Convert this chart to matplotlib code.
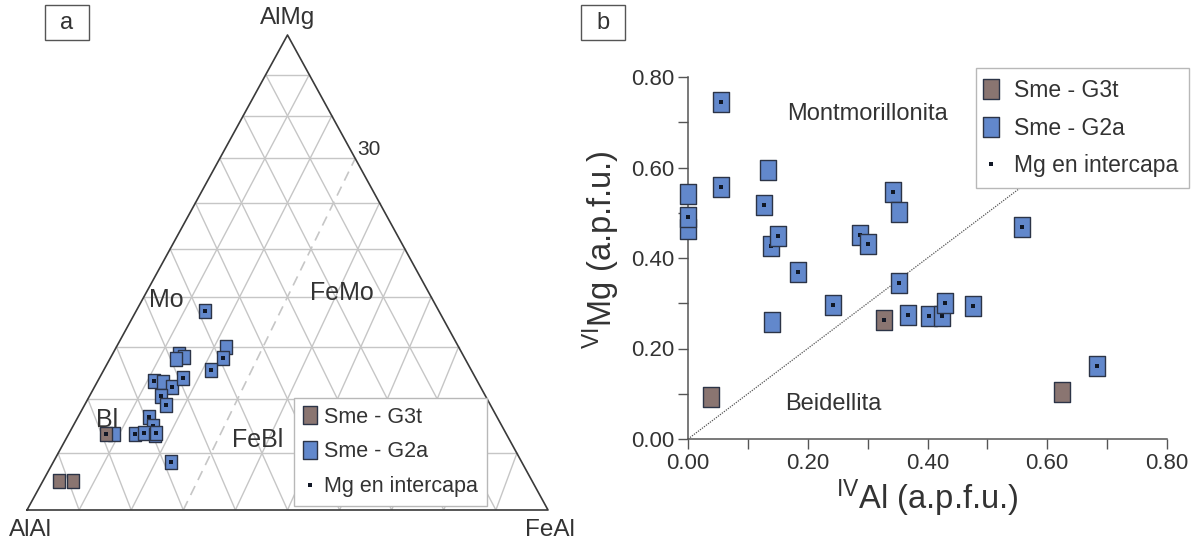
import numpy as np
import matplotlib
matplotlib.use("Agg")
import matplotlib.pyplot as plt
from matplotlib.path import Path
from matplotlib.lines import Line2D
from matplotlib.patches import Rectangle

plt.rcParams['font.family'] = ['Liberation Sans', 'DejaVu Sans']
plt.rcParams['mathtext.fontset'] = 'custom'
plt.rcParams['mathtext.rm'] = 'Liberation Sans'
plt.rcParams['mathtext.it'] = 'Liberation Sans'

# ---- (a) ternary AlAl - FeAl - AlMg, in % of AlMg and FeAl
tern_g2a_mg = [37.1, 28.6, 28.0, 27.6, 29.9, 27.8, 25.5, 23.5, 23.3, 22.2, 24.0,
               20.6, 18.9, 16.7, 15.0, 13.5, 13.6, 13.3, 13.6, 13.5, 8.5]
tern_g2a_fe = [14.4, 13.6, 15.0, 13.5, 22.5, 22.9, 21.7, 11.4, 13.3, 15.6, 16.8,
               14.3, 16.3, 14.0, 15.8, 13.1, 14.9, 17.2, 17.3, 9.0, 22.9]
tern_g2a_int = [1, 0, 0, 0, 0, 1, 1, 1, 0, 1, 1, 1, 1, 1, 1, 1, 1, 0, 1, 0, 1]

tern_g3t_mg = [13.5, 5.1, 5.1]
tern_g3t_fe = [7.4, 3.1, 5.8]
tern_g3t_int = [1, 0, 0]

# ---- (b) IVAl vs VIMg (a.p.f.u.)
g2a_al = [0.055, 0.055, 0.0, 0.0, 0.0, 0.134, 0.127, 0.139, 0.150, 0.183, 0.141, 0.242,
          0.287, 0.301, 0.343, 0.352, 0.352, 0.367, 0.402, 0.424, 0.429, 0.476, 0.557, 0.683]
g2a_mg = [0.745, 0.556, 0.542, 0.463, 0.491, 0.594, 0.517, 0.427, 0.449, 0.370, 0.258, 0.296,
          0.450, 0.432, 0.545, 0.501, 0.345, 0.274, 0.272, 0.272, 0.301, 0.295, 0.469, 0.162]
g2a_int = [1, 1, 0, 0, 1, 0, 1, 1, 1, 1, 0, 1, 1, 1, 1, 0, 1, 1, 1, 1, 1, 1, 1, 1]

g3t_al = [0.038, 0.327, 0.624]
g3t_mg = [0.092, 0.262, 0.103]
g3t_int = [0, 1, 0]

ticks = [0.0, 0.2, 0.4, 0.6, 0.8]
minor_ticks = [0.1, 0.3, 0.5, 0.7]

blue = '#6288cc'
brown = '#8a7571'
edge = '#2c3447'
dotc = '#111827'
txt = '#333333'

rect = Path([(-0.41, -0.5), (0.41, -0.5), (0.41, 0.5), (-0.41, 0.5), (-0.41, -0.5)], closed=True)


def squares(ax, xs, ys, dots, fc, ms, dms):
    for x, y, d in zip(xs, ys, dots):
        ax.plot(x, y, ls='none', marker=rect, ms=ms, mfc=fc, mec=edge, mew=1.0,
                clip_on=False, zorder=3)
        if d:
            ax.plot(x, y, ls='none', marker='s', ms=dms, color=dotc, mew=0,
                    clip_on=False, zorder=3)


# the triangle is drawn slightly foreshortened towards the AlMg apex
PERSP = 0.22


def tern(mg, fe):
    m = np.asarray(mg, dtype=float) / 100
    f = np.asarray(fe, dtype=float) / 100
    k = 1 + PERSP * m
    return (f + 0.5 * m * (1 + PERSP)) / k, m * (1 + PERSP) / k


W, H = 1195, 544
fig = plt.figure(figsize=(W / 100, H / 100), dpi=100)

# ---------------- panel a
ax_t = fig.add_axes([27 / W, 1 - 510 / H, 521 / W, 475 / H])
ax_t.set_xlim(0, 1)
ax_t.set_ylim(0, 1)
ax_t.axis('off')

grid_kw = dict(color='#c6c6c6', lw=1.0, zorder=1)
for i in range(1, 10):
    p = i * 10
    q = 100 - p
    ax_t.plot(*tern([p, p], [0, q]), **grid_kw)          # AlMg = p
    ax_t.plot(*tern([0, q], [q, 0]), **grid_kw)          # AlAl = p
    if i != 3:
        ax_t.plot(*tern([0, q], [p, p]), **grid_kw)      # FeAl = p
ax_t.plot(*tern([0, 70], [30, 30]), color='#c6c6c6', lw=1.2, ls=(0, (6, 4)), zorder=1)
ax_t.plot(*tern([0, 0, 100, 0], [0, 100, 0, 0]), color='#3a3a3a', lw=1.2, zorder=2, clip_on=False)

x, y = tern(tern_g2a_mg, tern_g2a_fe)
squares(ax_t, x, y, tern_g2a_int, blue, 10.2, 2.3)
x, y = tern(tern_g3t_mg, tern_g3t_fe)
squares(ax_t, x, y, tern_g3t_int, brown, 10.2, 2.3)

ax_t.text(0.5, 1.036, 'AlMg', ha='center', va='center', fontsize=17.5, color=txt)
ax_t.text(0.006, -0.042, 'AlAl', ha='center', va='center', fontsize=17.5, color=txt)
ax_t.text(1.004, -0.042, 'FeAl', ha='center', va='center', fontsize=17.5, color=txt)
ax_t.text(0.633, 0.758, '30', ha='left', va='center', fontsize=15, color=txt)
ax_t.text(0.267, 0.442, 'Mo', ha='center', va='center', fontsize=18, color=txt)
ax_t.text(0.605, 0.457, 'FeMo', ha='center', va='center', fontsize=18, color=txt)
ax_t.text(0.154, 0.19, 'Bl', ha='center', va='center', fontsize=18, color=txt)
ax_t.text(0.443, 0.147, 'FeBl', ha='center', va='center', fontsize=18, color=txt)

hs_a = [Line2D([], [], ls='none', marker=rect, ms=12.7, mfc=brown, mec=edge, mew=1.0, label='Sme - G3t'),
        Line2D([], [], ls='none', marker=rect, ms=12.7, mfc=blue, mec=edge, mew=1.0, label='Sme - G2a'),
        Line2D([], [], ls='none', marker='s', ms=3, mew=0, color=dotc, label='Mg en intercapa')]
leg_a = ax_t.legend(handles=hs_a, loc='upper left', bbox_to_anchor=(0.5125, 0.2358), borderaxespad=0,
                    fontsize=15.5, frameon=True, fancybox=False, framealpha=1, edgecolor='#b8b8b8',
                    borderpad=0.4, handlelength=0.65, handletextpad=0.35, labelspacing=0.64)
leg_a.get_frame().set_linewidth(1.0)
leg_a.set_zorder(5)
for t in leg_a.get_texts():
    t.set_color(txt)

# ---------------- panel b
ax_b = fig.add_axes([688 / W, 1 - 439 / H, 479 / W, 362 / H])
ax_b.set_xlim(0, 0.8)
ax_b.set_ylim(0, 0.8)
for s in ['top', 'right']:
    ax_b.spines[s].set_visible(False)
for s in ['left', 'bottom']:
    ax_b.spines[s].set_color('#555555')
    ax_b.spines[s].set_linewidth(1.1)
ax_b.set_xticks(ticks)
ax_b.set_yticks(ticks)
ax_b.set_xticks(minor_ticks, minor=True)
ax_b.set_yticks(minor_ticks, minor=True)
ax_b.set_xticklabels([f'{v:.2f}' for v in ticks])
ax_b.set_yticklabels([f'{v:.2f}' for v in ticks])
ax_b.tick_params(which='both', direction='out', length=7, width=1.0, color='#555555',
                 labelsize=16, labelcolor=txt, pad=3)

ax_b.plot([0, 0.8], [0, 0.8], ls=(0, (1, 1)), color='#555555', lw=0.9, zorder=1)

squares(ax_b, g2a_al, g2a_mg, g2a_int, blue, 14.2, 3.0)
squares(ax_b, g3t_al, g3t_mg, g3t_int, brown, 14.2, 3.0)

ax_b.text(0.300, 0.718, 'Montmorillonita', ha='center', va='center', fontsize=17, color=txt)
ax_b.text(0.243, 0.078, 'Beidellita', ha='center', va='center', fontsize=17, color=txt)

ax_b.set_xlabel(r'$^{\mathrm{IV}}$Al (a.p.f.u.)', fontsize=23.5, color=txt)
ax_b.set_ylabel(r'$^{\mathrm{VI}}$Mg (a.p.f.u.)', fontsize=23.5, color=txt)
ax_b.xaxis.set_label_coords(0.5, -0.105)
ax_b.yaxis.set_label_coords(-0.138, 0.522)

hs_b = [Line2D([], [], ls='none', marker=rect, ms=14.8, mfc=brown, mec=edge, mew=1.0, label='Sme - G3t'),
        Line2D([], [], ls='none', marker=rect, ms=14.8, mfc=blue, mec=edge, mew=1.0, label='Sme - G2a'),
        Line2D([], [], ls='none', marker='s', ms=3.5, mew=0, color=dotc, label='Mg en intercapa')]
leg_b = ax_b.legend(handles=hs_b, loc='upper left', bbox_to_anchor=(0.601, 1.025), borderaxespad=0,
                    fontsize=16.5, frameon=True, fancybox=False, framealpha=1, edgecolor='#b8b8b8',
                    borderpad=0.5, handlelength=0.3, handletextpad=0.85, labelspacing=0.62)
leg_b.get_frame().set_linewidth(1.0)
leg_b.set_zorder(5)
for t in leg_b.get_texts():
    t.set_color(txt)

# panel letters
for x0, letter in [(45, 'a'), (581, 'b')]:
    fig.patches.append(Rectangle((x0 / W, 1 - 40 / H), 44 / W, 35 / H, transform=fig.transFigure,
                                 fill=True, facecolor='white', edgecolor='#555555', lw=1.0))
    fig.text((x0 + 22) / W, 1 - 23 / H, letter, ha='center', va='center', fontsize=17, color=txt)

fig.savefig('out.png', dpi=100)
